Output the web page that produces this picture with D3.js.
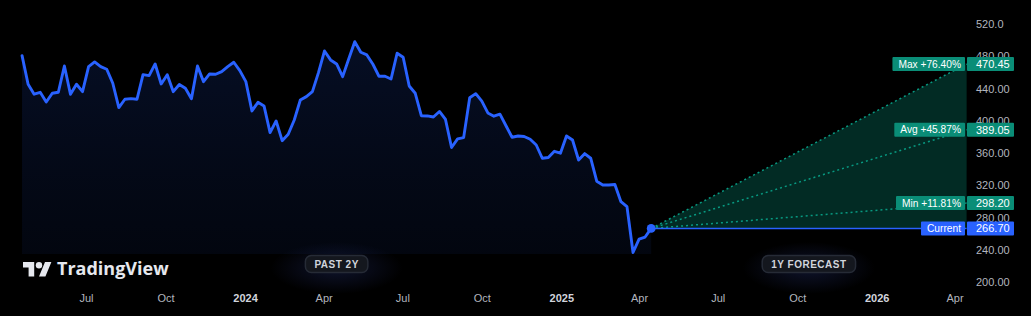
<!DOCTYPE html>
<html><head><meta charset="utf-8">
<script src="https://cdn.jsdelivr.net/npm/d3@7"></script>
<style>
html,body{margin:0;padding:0;background:#000;}
svg{display:block;font-family:"Liberation Sans",Arial,sans-serif;}
</style>
</head><body>
<svg id="c" width="1031" height="316"></svg>
<script>
// ---------- data ----------
const pastStartDate = "2023-04-18";           // weekly closes
const pastValues = [
  480.8,445.4,433.0,435.4,423.4,434.2,435.4,468.0,433.0,445.4,
  436.2,467.2,473.0,467.2,463.9,446.6,416.4,426.8,427.5,426.8,
  457.2,456.0,470.5,445.7,457.2,436.2,445.1,440.4,427.5,468.0,
  448.6,458.1,457.7,461.0,467.2,472.6,462.2,448.6,412.3,423.0,
  418.5,385.4,399.9,375.5,383.4,401.1,425.9,430.0,436.2,459.7,
  486.6,475.5,470.5,454.8,476.7,498.1,485.0,481.7,470.1,455.3,
  455.3,451.9,483.8,478.8,443.2,434.2,406.4,406.1,404.8,411.6,
  401.7,367.0,377.6,379.2,428.6,433.7,424.4,409.8,405.8,408.3,
  394.0,379.7,381.3,380.7,377.2,370.1,353.7,354.6,362.3,359.9,
  381.3,376.3,351.5,359.4,353.7,325.2,320.6,320.6,321.2,299.9,
  293.7,236.9,253.4,256.1,266.70
];
const currentDate = "2025-04-15";
const currentValue = 266.70;
const forecastEndDate = "2026-04-15";
const forecastNames = ["Max", "Avg", "Min"];
const forecastValues = [470.45, 389.05, 298.20];
const forecastPct = ["+76.40%", "+45.87%", "+11.81%"];
const yTicks = [200, 240, 280, 320, 360, 400, 440, 480, 520];
const yTickLabels = ["200.00","240.00","280.00","320.00","360.00","400.00","440.00","480.00","520.0"];
const xTickDates = ["2023-07-01","2023-10-01","2024-01-01","2024-04-01","2024-07-01","2024-10-01",
                    "2025-01-01","2025-04-01","2025-07-01","2025-10-01","2026-01-01","2026-04-01"];
const xTickLabels = ["Jul","Oct","2024","Apr","Jul","Oct","2025","Apr","Jul","Oct","2026","Apr"];
const areaBaseValue = 235;

// ---------- setup ----------
const parse = d3.utcParse("%Y-%m-%d");
const svg = d3.select("#c");
const x = d3.scaleUtc().domain([parse("2023-07-01"), parse("2026-04-01")]).range([86, 954.5]);
const y = d3.scaleLinear().domain([200, 520]).range([282.3, 24]);

const start = parse(pastStartDate);
const past = pastValues.map((v, i) => ({date: d3.utcDay.offset(start, 7 * i), value: v}));
const cur = {date: parse(currentDate), value: currentValue};
const endD = parse(forecastEndDate);

const defs = svg.append("defs");
const ag = defs.append("linearGradient").attr("id","areaGrad").attr("x1",0).attr("x2",0).attr("y1",0).attr("y2",1);
ag.append("stop").attr("offset","0%").attr("stop-color","#2962ff").attr("stop-opacity",0.14);
ag.append("stop").attr("offset","100%").attr("stop-color","#2962ff").attr("stop-opacity",0.06);
const rg = defs.append("radialGradient").attr("id","glow");
rg.append("stop").attr("offset","0%").attr("stop-color","#1a2350").attr("stop-opacity",0.55);
rg.append("stop").attr("offset","100%").attr("stop-color","#1a2350").attr("stop-opacity",0);

// ---------- past area ----------
svg.append("path").datum(past)
  .attr("fill","url(#areaGrad)")
  .attr("d", d3.area().x(d => x(d.date)).y0(y(areaBaseValue)).y1(d => y(d.value)));

// ---------- forecast fan ----------
const xc = x(cur.date), yc = y(cur.value), xe = x(endD);
svg.append("path")
  .attr("fill","#089981").attr("fill-opacity",0.28)
  .attr("d", d3.line()([[xc, yc], [xe, y(forecastValues[0])], [xe, yc]]) + "Z");
forecastValues.forEach(v => {
  svg.append("line").attr("x1",xc).attr("y1",yc).attr("x2",xe).attr("y2",y(v))
    .attr("stroke","#089981").attr("stroke-width",1.5).attr("stroke-dasharray","2 3");
});
svg.append("line").attr("x1",xc).attr("y1",yc).attr("x2",xe).attr("y2",yc)
  .attr("stroke","#2962ff").attr("stroke-width",1.6);

// ---------- past line ----------
svg.append("path").datum(past)
  .attr("fill","none").attr("stroke","#2962ff").attr("stroke-width",2.9)
  .attr("stroke-linejoin","round").attr("stroke-linecap","round")
  .attr("d", d3.line().x(d => x(d.date)).y(d => y(d.value)));
svg.append("circle").attr("cx",xc).attr("cy",yc).attr("r",4.4).attr("fill","#2962ff");

// ---------- axes ----------
const yAxis = svg.append("g").attr("transform","translate(976,0)")
  .call(d3.axisRight(y).tickValues(yTicks).tickFormat((d,i) => yTickLabels[i]).tickSize(0).tickPadding(0));
yAxis.select(".domain").remove();
yAxis.selectAll("text").attr("fill","#b2b5be").style("font-size","11px").style("font-family","'Liberation Sans',Arial,sans-serif");

const xAxis = svg.append("g").attr("transform","translate(0,291)")
  .call(d3.axisBottom(x).tickValues(xTickDates.map(parse)).tickFormat((d,i) => xTickLabels[i]).tickSize(0).tickPadding(3));
xAxis.select(".domain").remove();
xAxis.selectAll("text")
  .attr("fill", (d,i) => /^\d{4}$/.test(xTickLabels[i]) ? "#d1d4dc" : "#b2b5be")
  .style("font-weight", (d,i) => /^\d{4}$/.test(xTickLabels[i]) ? "bold" : "normal")
  .style("font-size","11px").style("font-family","'Liberation Sans',Arial,sans-serif");

// ---------- price labels ----------
function priceLabel(name, value, color) {
  const cy = y(value);
  const g = svg.append("g");
  const t = g.append("text").attr("x",961).attr("y",cy).attr("dy","0.36em")
    .attr("text-anchor","end").attr("fill","#fff").style("font-size","10.2px").text(name);
  const w = t.node().getComputedTextLength();
  g.insert("rect","text").attr("x",961 - w - 6).attr("y",cy - 7).attr("width",w + 10).attr("height",14)
    .attr("rx",1).attr("fill",color);
  g.append("rect").attr("x",967).attr("y",cy - 7).attr("width",47).attr("height",14).attr("rx",1).attr("fill",color);
  g.append("text").attr("x",976).attr("y",cy).attr("dy","0.36em").attr("fill","#fff")
    .style("font-size","11px").text(value.toFixed(2));
}
forecastValues.forEach((v,i) => priceLabel(forecastNames[i] + " " + forecastPct[i], v, "#0a8d77"));
priceLabel("Current", currentValue, "#2962ff");

// ---------- badges ----------
function badge(cx, label) {
  svg.append("ellipse").attr("cx",cx).attr("cy",268).attr("rx",66).attr("ry",26).attr("fill","url(#glow)");
  const t = svg.append("text").attr("x",cx).attr("y",264).attr("dy","0.36em").attr("text-anchor","middle")
    .attr("fill","#d1d4dc").style("font-size","10px").style("font-weight","bold").style("letter-spacing","0.5px").text(label);
  const w = t.node().getComputedTextLength();
  svg.insert("rect", () => t.node()).attr("x",cx - w/2 - 9).attr("y",255.5).attr("width",w + 18).attr("height",17)
    .attr("rx",6).attr("fill","#14171e").attr("stroke","#262b36").attr("stroke-width",1.5);
}
badge((x(past[0].date) + xc) / 2, "PAST 2Y");
badge((xc + xe) / 2, "1Y FORECAST");

// ---------- logo ----------
const logo = svg.append("g").attr("transform","translate(23,258.8) scale(0.8)").attr("fill","#e6e8ee");
logo.append("path").attr("d","M14 22H7V11H0V4h14v18zM28 22h-8l7.5-18h8L28 22z");
logo.append("circle").attr("cx",20).attr("cy",8).attr("r",4);
svg.append("text").attr("x",57).attr("y",275).attr("fill","#e6e8ee")
  .style("font-family","'Open Sans',sans-serif").style("font-size","18px").style("font-weight","700")
  .text("TradingView");
</script>
</body></html>
